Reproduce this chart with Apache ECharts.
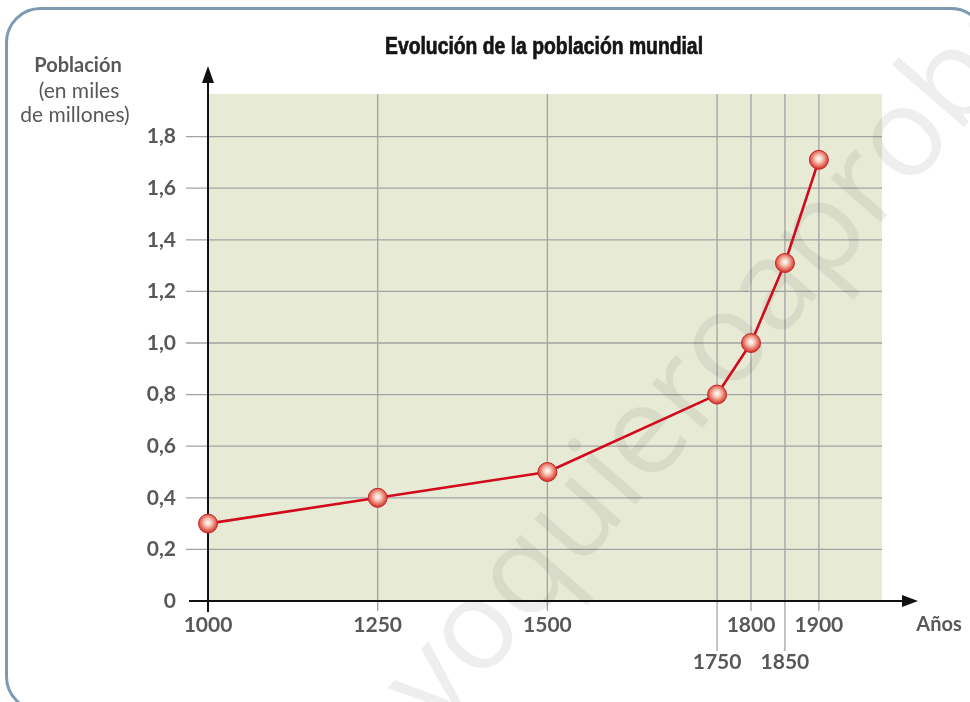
<!DOCTYPE html>
<html>
<head>
<meta charset="utf-8">
<script src="https://cdn.jsdelivr.net/npm/echarts@6/dist/echarts.min.js"></script>
<style>
  html, body { margin: 0; padding: 0; background: #ffffff; }
  #chart { width: 970px; height: 702px; }
</style>
</head>
<body>
<div id="chart"></div>
<script>
// Años y población mundial (miles de millones)
const years = [1000, 1250, 1500, 1750, 1800, 1850, 1900];
const population = [0.3, 0.4, 0.5, 0.8, 1.0, 1.31, 1.71];
const yTicks = [0, 0.2, 0.4, 0.6, 0.8, 1.0, 1.2, 1.4, 1.6, 1.8];
const lowLabelYears = [1750, 1850];

const xMin = 1000, xMax = 1993;
const yMin = 0, yMax = 1.965;

const FONT = 'Lato, "Open Sans", sans-serif';
const GREY_TEXT = '#58585a';
const GRID_GREY = '#a3a3a3';
const TITLE = 'Evolución de la población mundial';
const TITLE_FONT = 'bold 23px "Liberation Sans", Arimo, sans-serif';
const TITLE_WIDTH = 318;

const chart = echarts.init(document.getElementById('chart'), null, { renderer: 'canvas' });

function fmtComma(v) {
  return v === 0 ? '0' : v.toFixed(1).replace('.', ',');
}

// ancho natural del título, para estrecharlo como una fuente condensada
const measureCtx = document.createElement('canvas').getContext('2d');
measureCtx.font = TITLE_FONT;
const titleScale = TITLE_WIDTH / measureCtx.measureText(TITLE).width;

// Fondo verde, rejilla y ejes con flecha
function renderDecor(params, api) {
  const o = api.coord([xMin, yMin]);
  const tr = api.coord([xMax, yMax]);
  const children = [];
  children.push({
    type: 'rect',
    shape: { x: o[0], y: tr[1], width: tr[0] - o[0], height: o[1] - tr[1] },
    style: { fill: '#e7ebd6' }
  });
  yTicks.forEach(function (t) {
    if (t === 0) return;
    const p = api.coord([xMin, t]);
    children.push({
      type: 'line',
      shape: { x1: o[0] - 22, y1: p[1], x2: tr[0], y2: p[1] },
      style: { stroke: GRID_GREY, lineWidth: 1.3 }
    });
  });
  years.forEach(function (yr) {
    if (yr === xMin) return;
    const p = api.coord([yr, yMin]);
    const ext = lowLabelYears.indexOf(yr) >= 0 ? 50 : 10;
    children.push({
      type: 'line',
      shape: { x1: p[0], y1: tr[1], x2: p[0], y2: o[1] + ext },
      style: { stroke: GRID_GREY, lineWidth: 1.3 }
    });
  });
  // eje X
  children.push({
    type: 'line',
    shape: { x1: o[0] - 19, y1: o[1], x2: tr[0] + 24, y2: o[1] },
    style: { stroke: '#111', lineWidth: 2 }
  });
  children.push({
    type: 'polygon',
    shape: { points: [[tr[0] + 36, o[1]], [tr[0] + 20, o[1] - 6], [tr[0] + 20, o[1] + 6]] },
    style: { fill: '#111' }
  });
  // eje Y
  children.push({
    type: 'line',
    shape: { x1: o[0], y1: o[1] + 11, x2: o[0], y2: tr[1] - 14 },
    style: { stroke: '#111', lineWidth: 2 }
  });
  children.push({
    type: 'polygon',
    shape: { points: [[o[0], tr[1] - 28], [o[0] - 6, tr[1] - 11], [o[0] + 6, tr[1] - 11]] },
    style: { fill: '#111' }
  });
  return { type: 'group', children: children };
}

const labelStyle = { fontFamily: FONT, fontWeight: 'bold', fontSize: 21, color: GREY_TEXT };

const option = {
  animation: false,
  backgroundColor: '#ffffff',
  grid: { left: 208, right: 88, top: 94, bottom: 101 },
  xAxis: {
    type: 'value',
    min: xMin,
    max: xMax,
    axisLine: { show: false },
    axisTick: { show: false },
    splitLine: { show: false },
    axisLabel: Object.assign({
      customValues: years,
      margin: 14,
      formatter: function (v) {
        return lowLabelYears.indexOf(v) >= 0 ? '{lo|' + v + '}' : '{hi|' + v + '}';
      },
      rich: {
        hi: Object.assign({}, labelStyle),
        lo: Object.assign({ padding: [37, 0, 0, 0] }, labelStyle)
      }
    }, labelStyle)
  },
  yAxis: {
    type: 'value',
    min: yMin,
    max: yMax,
    axisLine: { show: false },
    axisTick: { show: false },
    splitLine: { show: false },
    axisLabel: Object.assign({
      customValues: yTicks,
      margin: 32,
      formatter: fmtComma
    }, labelStyle)
  },
  graphic: [
    {
      type: 'rect',
      z: 5,
      shape: { x: 6.5, y: 8.5, width: 978.5, height: 702, r: 34 },
      style: { fill: 'none', stroke: '#7c9bb2', lineWidth: 3 }
    },
    {
      type: 'text',
      z: 2,
      x: 458,
      y: 750,
      rotation: 49 * Math.PI / 180,
      style: {
        text: 'yoquieroaprobar',
        font: '125px "Open Sans", sans-serif',
        fill: 'rgba(0,0,0,0.065)',
        textVerticalAlign: 'bottom'
      }
    },
    {
      type: 'text', z: 5, x: 385, y: 48, scaleX: titleScale,
      style: {
        text: TITLE, font: TITLE_FONT, fill: '#151515',
        stroke: '#151515', lineWidth: 0.7,
        textAlign: 'left', textVerticalAlign: 'middle'
      }
    },
    {
      type: 'text', z: 5, x: 78, y: 66,
      style: { text: 'Población', font: 'bold 20px ' + FONT, fill: GREY_TEXT, textAlign: 'center', textVerticalAlign: 'middle' }
    },
    {
      type: 'text', z: 5, x: 79, y: 91,
      style: { text: '(en miles', font: '21px ' + FONT, fill: GREY_TEXT, textAlign: 'center', textVerticalAlign: 'middle' }
    },
    {
      type: 'text', z: 5, x: 75, y: 115,
      style: { text: 'de millones)', font: '21px ' + FONT, fill: GREY_TEXT, textAlign: 'center', textVerticalAlign: 'middle' }
    },
    {
      type: 'text', z: 5, x: 939, y: 625,
      style: { text: 'Años', font: 'bold 20px ' + FONT, fill: GREY_TEXT, textAlign: 'center', textVerticalAlign: 'middle' }
    }
  ],
  series: [
    {
      type: 'custom',
      z: 1,
      clip: false,
      silent: true,
      renderItem: renderDecor,
      data: [[xMin, yMin]]
    },
    {
      type: 'line',
      z: 3,
      data: years.map(function (y, i) { return [y, population[i]]; }),
      lineStyle: { color: '#d3091c', width: 2.6 },
      symbol: 'circle',
      symbolSize: 19,
      showAllSymbol: true,
      itemStyle: {
        color: {
          type: 'radial', x: 0.5, y: 0.45, r: 0.6,
          colorStops: [
            { offset: 0, color: '#ffffff' },
            { offset: 0.3, color: '#f6c9b9' },
            { offset: 0.75, color: '#dd4b3c' },
            { offset: 1, color: '#b71b1d' }
          ]
        },
        borderColor: '#c4272b',
        borderWidth: 1
      }
    }
  ]
};

chart.setOption(option);
</script>
</body>
</html>
